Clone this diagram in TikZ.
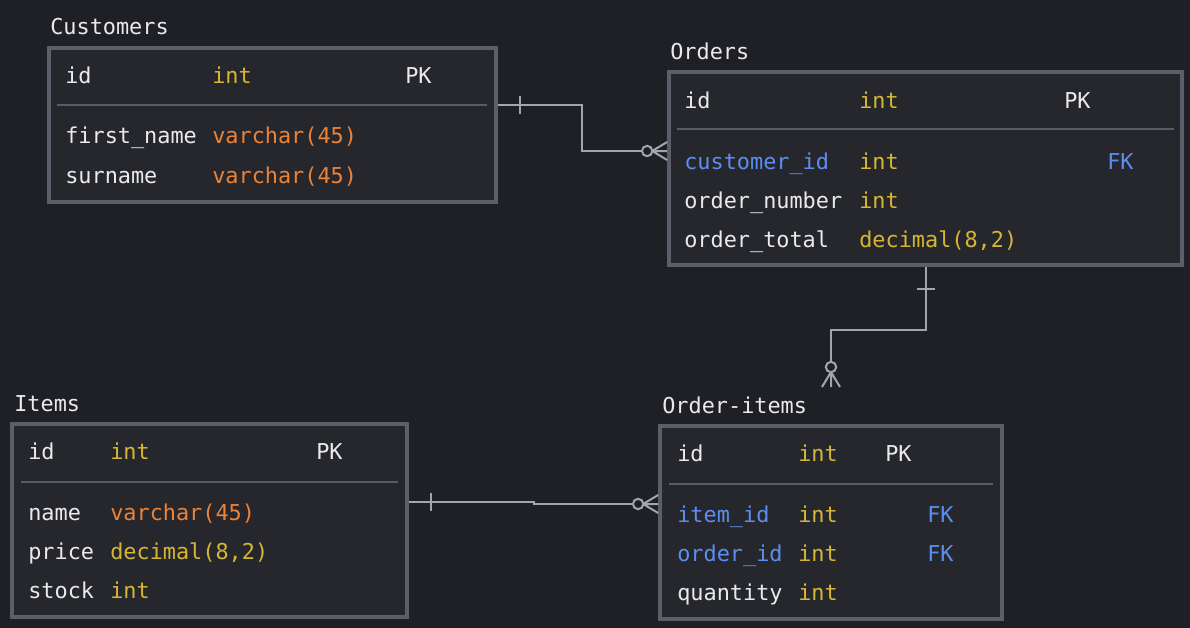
\documentclass[tikz,border=0pt]{standalone}
\usepackage{fontspec}
\setmonofont{DejaVu Sans Mono}
\usepackage{tikz}
\usetikzlibrary{calc,fit}
\definecolor{canvas}{HTML}{1F2025}
\definecolor{tablefill}{HTML}{26272D}
\definecolor{tableline}{HTML}{5D5E6A}
\definecolor{rowline}{HTML}{5A5B63}
\definecolor{fieldtext}{HTML}{EAEAEA}
\definecolor{inttype}{HTML}{D6B632}
\definecolor{chartype}{HTML}{EC8235}
\definecolor{keyblue}{HTML}{5C8DF0}
\definecolor{linkgray}{HTML}{A4A5AC}
\tikzset{
   table/.style={draw=tableline, fill=tablefill, line width=2.8pt, inner sep=0pt},
   txt/.style={anchor=base west, inner sep=0pt, text=fieldtext,
               font=\ttfamily\fontsize{16.4}{20}\selectfont},
   title/.style={txt},
   field/.style={txt},
   fkey/.style={txt, text=keyblue},
   inttype/.style={txt, text=inttype},
   chartype/.style={txt, text=chartype},
   rowsep/.style={draw=rowline, line width=1.5pt},
   link/.style={draw=linkgray, line width=1.5pt},
   zeromany/.pic={
     \draw[link] (-15,0) -- (0,-9) (-15,0) -- (0,9) (-15,0) -- (0,0);
     \draw[link, fill=canvas] (-20,0) circle[radius=3.9pt];
   },
   one/.pic={
     \draw[link] (22,-9) -- (22,9);
   }
}

\begin{document}
\begin{tikzpicture}[x=0.75pt,y=-0.75pt]
\fill[canvas] (0,0) rectangle (1190,628);
\useasboundingbox (0,0) rectangle (1190,628);

% Customers
\node[table, fit={(49,48) (496,202)}] (cust) {};
\node[title] (cust-title) at (50,35) {Customers};
\draw[rowsep] (57,105) -- (487,105);
\node[field]    (cust-id)    at (65,83)   {id};
\node[inttype]  (cust-idt)   at (212,83)  {int};
\node[field]    (cust-pk)    at (405,83)  {PK};
\node[field]    (cust-fn)    at (65,143)  {first\_name};
\node[chartype] (cust-fnt)   at (212,143) {varchar(45)};
\node[field]    (cust-sn)    at (65,183)  {surname};
\node[chartype] (cust-snt)   at (212,183) {varchar(45)};

% Orders
\node[table, fit={(669,72) (1182,265)}] (ord) {};
\node[title] (ord-title) at (670,59) {Orders};
\draw[rowsep] (677,129) -- (1174,129);
\node[field]    (ord-id)     at (684,108) {id};
\node[inttype]  (ord-idt)    at (859,108) {int};
\node[field]    (ord-pk)     at (1064,108) {PK};
\node[fkey]     (ord-cid)    at (684,169) {customer\_id};
\node[inttype]  (ord-cidt)   at (859,169) {int};
\node[fkey]     (ord-fk)     at (1107,169) {FK};
\node[field]    (ord-num)    at (684,208) {order\_number};
\node[inttype]  (ord-numt)   at (859,208) {int};
\node[field]    (ord-tot)    at (684,247) {order\_total};
\node[inttype]  (ord-tott)   at (859,247) {decimal(8,2)};

% Items
\node[table, fit={(12,424) (407,617)}] (item) {};
\node[title] (item-title) at (14,411) {Items};
\draw[rowsep] (21,482) -- (398,482);
\node[field]    (item-id)    at (28,459) {id};
\node[inttype]  (item-idt)   at (110,459) {int};
\node[field]    (item-pk)    at (316,459) {PK};
\node[field]    (item-nm)    at (28,520) {name};
\node[chartype] (item-nmt)   at (110,520) {varchar(45)};
\node[field]    (item-pr)    at (28,559) {price};
\node[inttype]  (item-prt)   at (110,559) {decimal(8,2)};
\node[field]    (item-st)    at (28,598) {stock};
\node[inttype]  (item-stt)   at (110,598) {int};

% Order-items
\node[table, fit={(660,426) (1002,619)}] (oi) {};
\node[title] (oi-title) at (662,413) {Order-items};
\draw[rowsep] (669,484) -- (993,484);
\node[field]    (oi-id)      at (677,461) {id};
\node[inttype]  (oi-idt)     at (798,461) {int};
\node[field]    (oi-pk)      at (885,461) {PK};
\node[fkey]     (oi-iid)     at (677,522) {item\_id};
\node[inttype]  (oi-iidt)    at (798,522) {int};
\node[fkey]     (oi-fk1)     at (927,522) {FK};
\node[fkey]     (oi-oid)     at (677,561) {order\_id};
\node[inttype]  (oi-oidt)    at (798,561) {int};
\node[fkey]     (oi-fk2)     at (927,561) {FK};
\node[field]    (oi-qty)     at (677,600) {quantity};
\node[inttype]  (oi-qtyt)    at (798,600) {int};

% relations
\coordinate (cust-out) at (cust.east |- 0,105);
\coordinate (ord-in)   at (ord.west |- 0,151);
\coordinate (ord-out)  at (ord.south -| 926,0);
\coordinate (oi-top)   at (831,387);
\coordinate (item-out) at (item.east |- 0,502);
\coordinate (oi-in)    at (oi.west |- 0,504);

\draw[link] (cust-out) -- ++(84,0) |- (ord-in);
\pic at (cust-out) {one};
\pic at (ord-in) {zeromany};

\draw[link] (ord-out) -- ++(0,63) -| (oi-top);
\pic[rotate=-90] at (ord-out) {one};
\pic[rotate=-90] at (oi-top) {zeromany};

\draw[link] (item-out) -- (534,502) -- (534,504) -- (oi-in);
\pic at (item-out) {one};
\pic at (oi-in) {zeromany};
\end{tikzpicture}
\end{document}
